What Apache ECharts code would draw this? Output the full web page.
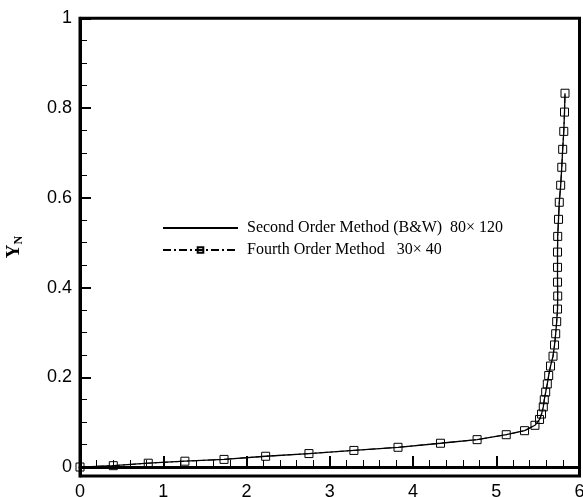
<!DOCTYPE html>
<html>
<head>
<meta charset="utf-8">
<script src="https://cdn.jsdelivr.net/npm/echarts@6/dist/echarts.min.js"></script>
<style>html,body{margin:0;padding:0;background:#fff}#c{width:583px;height:497px}</style>
</head>
<body>
<div id="c"></div>
<script>
var xVals = [0, 0.40, 0.82, 1.26, 1.73, 2.23, 2.75, 3.29, 3.82, 4.33, 4.77, 5.12, 5.34, 5.465, 5.52, 5.544, 5.565, 5.577, 5.594, 5.613, 5.630, 5.652, 5.682, 5.700, 5.714, 5.726, 5.736, 5.738, 5.736, 5.736, 5.736, 5.738, 5.748, 5.757, 5.774, 5.787, 5.798, 5.811, 5.820, 5.826];
var yVals = [0, 0.003, 0.0085, 0.013, 0.017, 0.024, 0.030, 0.037, 0.044, 0.053, 0.061, 0.072, 0.081, 0.093, 0.106, 0.118, 0.134, 0.150, 0.167, 0.185, 0.204, 0.225, 0.247, 0.272, 0.297, 0.324, 0.352, 0.381, 0.412, 0.445, 0.479, 0.514, 0.552, 0.590, 0.628, 0.668, 0.708, 0.748, 0.791, 0.833];
var yMajorTicks = [0, 0.2, 0.4, 0.6, 0.8, 1];
var yMinorTicks = [0.05, 0.1, 0.15, 0.25, 0.3, 0.35, 0.45, 0.5, 0.55, 0.65, 0.7, 0.75, 0.85, 0.9, 0.95];
var seriesNames = ['Second Order Method (B&W)  80\u00d7 120', 'Fourth Order Method   30\u00d7 40'];

var pts = xVals.map(function (x, i) { return [x, yVals[i]]; });

var chart = echarts.init(document.getElementById('c'), null, {renderer: 'canvas'});
var labelFont = {color: '#000', fontFamily: 'Liberation Sans', fontSize: 18};
chart.setOption({
  animation: false,
  backgroundColor: '#fff',
  grid: {left: 80, right: 3.5, top: 18.3, bottom: 21, outerBoundsMode: 'none', containLabel: false,
    show: true, borderColor: '#000', borderWidth: 3, backgroundColor: 'transparent'},
  legend: {
    orient: 'vertical', left: 157, top: 215, itemWidth: 75, itemHeight: 7, itemGap: 6,
    textStyle: {color: '#000', fontFamily: 'Liberation Serif', fontSize: 16, lineHeight: 16, padding: [0, 0, 0, 4]},
    data: [
      {name: seriesNames[0], itemStyle: {color: 'rgba(0,0,0,0)', borderWidth: 0, opacity: 0}},
      {name: seriesNames[1]}
    ]
  },
  xAxis: {
    type: 'value', min: 0, max: 6, interval: 1,
    axisLine: {show: true, lineStyle: {color: '#000', width: 3}},
    axisTick: {show: true, inside: true, length: 11, lineStyle: {color: '#000', width: 2}},
    minorTick: {show: true, splitNumber: 5, length: 7, lineStyle: {color: '#000', width: 1}},
    axisLabel: Object.assign({margin: 7}, labelFont),
    splitLine: {show: false}
  },
  yAxis: [{
    type: 'value', min: -0.02, max: 1,
    name: '{y|Y}{n|N}', nameLocation: 'middle', nameGap: 55, nameRotate: 90,
    nameTextStyle: {rich: {
      y: {fontFamily: 'Liberation Serif', fontWeight: 'bold', fontSize: 19, lineHeight: 22, color: '#000'},
      n: {fontFamily: 'Liberation Serif', fontWeight: 'bold', fontSize: 12, lineHeight: 11, verticalAlign: 'bottom', color: '#000'}
    }},
    axisLine: {show: true, lineStyle: {color: '#000', width: 3}},
    axisTick: {show: true, inside: true, length: 11, customValues: yMajorTicks, lineStyle: {color: '#000', width: 2}},
    axisLabel: Object.assign({margin: 8, customValues: yMajorTicks}, labelFont),
    splitLine: {show: false}
  }, {
    type: 'value', min: -0.02, max: 1, position: 'left',
    axisLine: {show: false},
    axisTick: {show: true, inside: true, length: 7, customValues: yMinorTicks, lineStyle: {color: '#000', width: 1}},
    axisLabel: {show: false},
    splitLine: {show: false}
  }],
  series: [{
    name: seriesNames[0], type: 'line', data: pts, symbol: 'none',
    lineStyle: {color: '#000', width: 1.3, type: 'solid'}, itemStyle: {color: '#000'}
  }, {
    name: seriesNames[1], type: 'line', data: pts, symbol: 'rect', symbolSize: 8,
    lineStyle: {color: '#000', width: 1, type: [8, 3, 2, 3]},
    itemStyle: {color: 'rgba(0,0,0,0)', borderColor: '#000', borderWidth: 1}
  }]
});
</script>
</body>
</html>
